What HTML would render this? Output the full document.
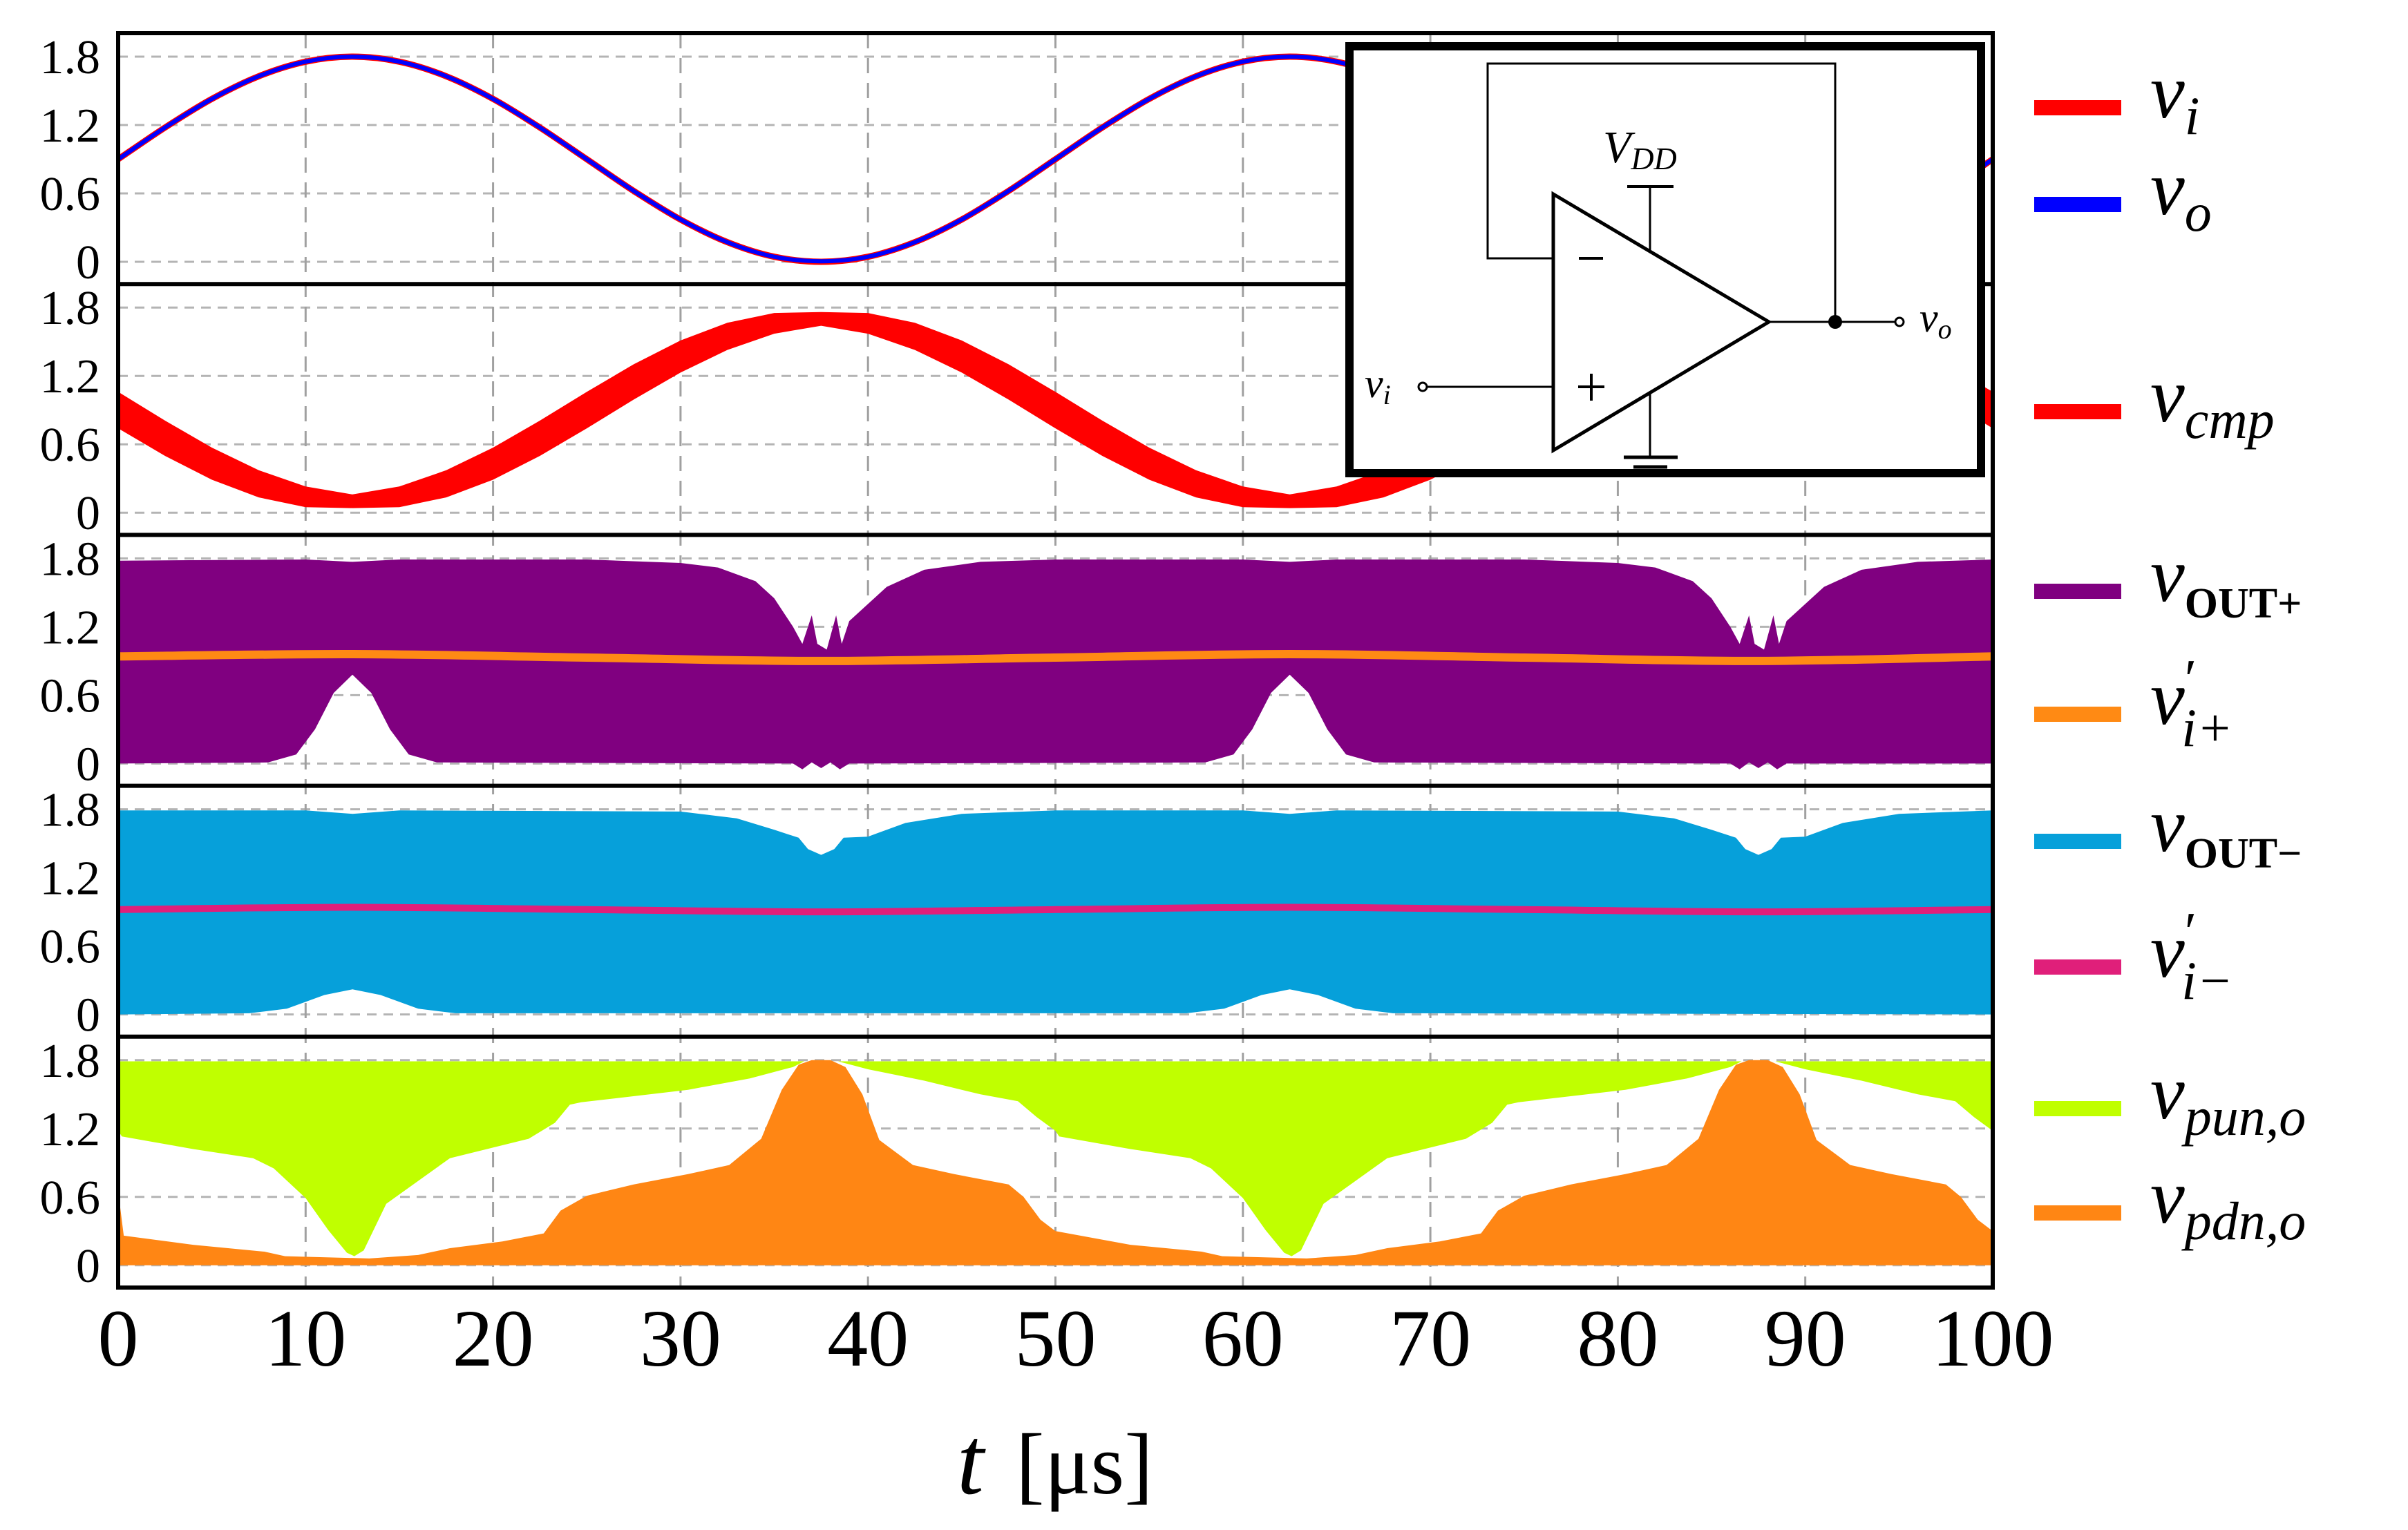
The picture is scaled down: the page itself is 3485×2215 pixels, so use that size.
<!DOCTYPE html>
<html><head><meta charset="utf-8"><style>
html,body{margin:0;padding:0;background:#fff;}
svg{display:block;}
</style></head><body>
<svg id="chart" width="3485" height="2215" viewBox="0 0 3485 2215" xmlns="http://www.w3.org/2000/svg">
<rect width="3485" height="2215" fill="#fff"/>
<g id="grid"></g><g id="series"></g><g id="frames"></g><g id="ticks"></g>
<g id="inset">
 <rect x="1953" y="67" width="914" height="618" fill="#fff" stroke="#000" stroke-width="12"/>
 <polyline points="2248,374 2153,374 2153,92 2656,92 2656,466" fill="none" stroke="#000" stroke-width="3"/>
 <polygon points="2248,281 2248,652 2560,466" fill="#fff" stroke="#000" stroke-width="5"/>
 <line x1="2285" y1="374" x2="2320" y2="374" stroke="#000" stroke-width="4"/>
 <line x1="2284" y1="560" x2="2322" y2="560" stroke="#000" stroke-width="4"/>
 <line x1="2303" y1="541" x2="2303" y2="580" stroke="#000" stroke-width="4"/>
 <line x1="2064" y1="560" x2="2248" y2="560" stroke="#000" stroke-width="3"/>
 <circle cx="2059" cy="560" r="6" fill="#fff" stroke="#000" stroke-width="3"/>
 <line x1="2560" y1="466" x2="2743" y2="466" stroke="#000" stroke-width="3"/>
 <circle cx="2656" cy="466" r="10" fill="#000"/>
 <circle cx="2749" cy="466" r="6" fill="#fff" stroke="#000" stroke-width="3"/>
 <line x1="2388" y1="270" x2="2388" y2="362" stroke="#000" stroke-width="3"/>
 <line x1="2355" y1="270" x2="2422" y2="270" stroke="#000" stroke-width="4"/>
 <line x1="2388" y1="570" x2="2388" y2="662" stroke="#000" stroke-width="3"/>
 <line x1="2350" y1="662" x2="2428" y2="662" stroke="#000" stroke-width="5"/>
 <line x1="2364" y1="676" x2="2413" y2="676" stroke="#000" stroke-width="5"/>
 <text x="2320" y="235" font-family="Liberation Serif, serif" font-style="italic" font-size="66">V<tspan font-size="46" dy="10">DD</tspan></text>
 <text x="1975" y="575" font-family="Liberation Serif, serif" font-style="italic" font-size="60">v<tspan font-size="40" dy="10">i</tspan></text>
 <text x="2778" y="480" font-family="Liberation Serif, serif" font-style="italic" font-size="60">v<tspan font-size="40" dy="10">o</tspan></text>
</g>
<g id="legend"></g>
<text x="1385" y="2162" font-family="Liberation Serif, serif" font-style="italic" font-size="140">t</text>
<text x="1470" y="2162" font-family="Liberation Serif, serif" font-size="125">[μs]</text>
</svg>
<script>
const xTicks = [0,10,20,30,40,50,60,70,80,90,100];
const yTicks = [0,0.6,1.2,1.8];
const yTickLabels = ["0","0.6","1.2","1.8"];
const tSine = [0,2.5,5,7.5,10,12.5,15,17.5,20,22.5,25,27.5,30,32.5,35,37.5,40,42.5,45,47.5,50,52.5,55,57.5,60,62.5,65,67.5,70,72.5,75,77.5,80,82.5,85,87.5,90,92.5,95,97.5,100];
const viVals = [0.9,1.178,1.429,1.628,1.756,1.8,1.756,1.628,1.429,1.178,0.9,0.622,0.371,0.172,0.044,0,0.044,0.172,0.371,0.622,0.9,1.178,1.429,1.628,1.756,1.8,1.756,1.628,1.429,1.178,0.9,0.622,0.371,0.172,0.044,0,0.044,0.172,0.371,0.622,0.9];
const voVals = [0.9,1.178,1.429,1.628,1.756,1.8,1.756,1.628,1.429,1.178,0.9,0.622,0.371,0.172,0.044,0.005,0.044,0.172,0.371,0.622,0.9,1.178,1.429,1.628,1.756,1.8,1.756,1.628,1.429,1.178,0.9,0.622,0.371,0.172,0.044,0.005,0.044,0.172,0.371,0.622,0.9];
const cmpUpper = [1.06,0.808,0.571,0.372,0.23,0.16,0.23,0.372,0.571,0.808,1.06,1.302,1.511,1.666,1.752,1.76,1.752,1.666,1.511,1.302,1.06,0.808,0.571,0.372,0.23,0.16,0.23,0.372,0.571,0.808,1.06,1.302,1.511,1.666,1.752,1.76,1.752,1.666,1.511,1.302,1.06];
const cmpLower = [0.74,0.498,0.289,0.134,0.048,0.04,0.048,0.134,0.289,0.498,0.74,0.992,1.229,1.428,1.57,1.64,1.57,1.428,1.229,0.992,0.74,0.498,0.289,0.134,0.048,0.04,0.048,0.134,0.289,0.498,0.74,0.992,1.229,1.428,1.57,1.64,1.57,1.428,1.229,0.992,0.74];
const outPTopT = [0,10,12.5,15,25,30,32,34,35,36,36.5,37,37.3,37.8,38.3,38.6,39,40,41,43,46,50,60,62.5,65,75,80,82,84,85,86,86.5,87,87.3,87.8,88.3,88.6,89,90,91,93,96,100];
const outPTopV = [1.78,1.79,1.77,1.79,1.79,1.76,1.72,1.6,1.45,1.2,1.05,1.3,1.05,1.0,1.3,1.05,1.25,1.4,1.55,1.7,1.77,1.79,1.79,1.77,1.79,1.79,1.76,1.72,1.6,1.45,1.2,1.05,1.3,1.05,1.0,1.3,1.05,1.25,1.4,1.55,1.7,1.77,1.79];
const outPBotT = [0,8,9.5,10.5,11.5,12.5,13.5,14.5,15.5,17,36,36.5,37,37.5,38,38.5,39,58,59.5,60.5,61.5,62.5,63.5,64.5,65.5,67,86,86.5,87,87.5,88,88.5,89,100];
const outPBotV = [0,0.01,0.08,0.3,0.62,0.78,0.62,0.3,0.08,0.01,0,-0.05,0.01,-0.04,0.01,-0.05,0,0.01,0.08,0.3,0.62,0.78,0.62,0.3,0.08,0.01,0,-0.05,0.01,-0.04,0.01,-0.05,0,0];
const viPlusT = [0,12.5,25,37.5,50,62.5,75,87.5,100];
const viPlusV = [0.94,0.96,0.93,0.9,0.93,0.96,0.93,0.9,0.94];
const outMTopT = [0,10,12.5,15,30,33,35,36.3,36.8,37.5,38.2,38.7,40,42,45,50,60,62.5,65,80,83,85,86.3,86.8,87.5,88.2,88.7,90,92,95,100];
const outMTopV = [1.79,1.79,1.76,1.79,1.78,1.72,1.62,1.55,1.45,1.4,1.45,1.55,1.56,1.68,1.76,1.79,1.79,1.76,1.79,1.78,1.72,1.62,1.55,1.45,1.4,1.45,1.55,1.56,1.68,1.76,1.79];
const outMBotT = [0,7,9,11,12.5,14,16,18,57,59,61,62.5,64,66,68,100];
const outMBotV = [0,0.01,0.05,0.17,0.22,0.17,0.05,0.01,0.01,0.05,0.17,0.22,0.17,0.05,0.01,0];
const viMinusT = [0,12.5,25,37.5,50,62.5,75,87.5,100];
const viMinusV = [0.92,0.94,0.92,0.9,0.92,0.94,0.92,0.9,0.92];
const punTopT = [0,100];
const punTopV = [1.79,1.79];
const punLowT = [0,0.2,4,7.2,8.3,10,11.2,12.2,12.6,13.1,14.3,16,17.7,21.9,23.3,24.1,24.7,30.4,33.7,36,36.6,38.4,40,43,46,48,49,50,50.2,54,57.2,58.3,60,61.2,62.2,62.6,63.1,64.3,66,67.7,71.9,73.3,74.1,74.7,80.4,83.7,86,86.6,88.4,90,93,96,98,99,100];
const punLowV = [1.18,1.13,1.02,0.94,0.85,0.59,0.31,0.11,0.08,0.13,0.54,0.74,0.94,1.11,1.25,1.41,1.43,1.54,1.64,1.74,1.79,1.79,1.72,1.62,1.5,1.44,1.3,1.18,1.13,1.02,0.94,0.85,0.59,0.31,0.11,0.08,0.13,0.54,0.74,0.94,1.11,1.25,1.41,1.43,1.54,1.64,1.74,1.79,1.79,1.72,1.62,1.5,1.44,1.3,1.18];
const pdnT = [0,0.3,4,7.8,8.9,13.4,16,17.7,20.5,22.7,23.6,25,27.5,30.4,32.6,34.3,35.4,36.3,37,38,38.8,39.7,40.6,42.4,44.6,47.5,48.3,49.2,50,54,57.8,58.9,63.4,66,67.7,70.5,72.7,73.6,75,77.5,80.4,82.6,84.3,85.4,86.3,87,88,88.8,89.7,90.6,92.4,94.6,97.5,98.3,99.2,100];
const pdnV = [0.65,0.26,0.18,0.12,0.08,0.06,0.09,0.15,0.21,0.28,0.48,0.61,0.71,0.8,0.88,1.11,1.54,1.76,1.8,1.8,1.74,1.5,1.1,0.88,0.8,0.71,0.6,0.4,0.3,0.18,0.12,0.08,0.06,0.09,0.15,0.21,0.28,0.48,0.61,0.71,0.8,0.88,1.11,1.54,1.76,1.8,1.8,1.74,1.5,1.1,0.88,0.8,0.71,0.6,0.4,0.3];

const NS = "http://www.w3.org/2000/svg";
const X0 = 171, X1 = 2884, TOP = 48, PH = 363.2, NP = 5;
function xs(t){ return X0 + (t/100)*(X1-X0); }
function ys(p, v){ return TOP + PH*p + 34 + (1.8 - v)*165; }
function mk(tag, attrs, parent){ const e=document.createElementNS(NS,tag); for(const k in attrs) e.setAttribute(k,attrs[k]); parent.appendChild(e); return e; }
const svg=document.getElementById('chart');
const defs=mk('defs',{},svg);
for(let p=0;p<NP;p++){
  const cp=mk('clipPath',{id:'clip'+p},defs);
  mk('rect',{x:X0,y:TOP+PH*p,width:X1-X0,height:PH},cp);
}
const gGrid=document.getElementById('grid'), gSer=document.getElementById('series'), gFr=document.getElementById('frames'), gTk=document.getElementById('ticks');
for(let p=0;p<NP;p++){
  for(const v of yTicks){
    const l=mk('line',{x1:X0,x2:X1,y1:ys(p,v),y2:ys(p,v),stroke:'#b4b4b4','stroke-width':3,'stroke-dasharray':'14 10'},gGrid);
    
    
  }
  yTicks.forEach((v,i)=>{
    const tx=mk('text',{x:145,y:ys(p,v)+24,'text-anchor':'end','font-family':'Liberation Serif, serif','font-size':70},gTk);
    tx.textContent=yTickLabels[i];
    
    
  });
}
for(const t of xTicks){
  const l=mk('line',{x1:xs(t),x2:xs(t),y1:TOP,y2:TOP+PH*NP,stroke:'#a0a0a0','stroke-width':3,'stroke-dasharray':'22 14'},gGrid);
  
  
  const tx=mk('text',{x:xs(t),y:1977,'text-anchor':'middle','font-family':'Liberation Serif, serif','font-size':118},gTk);
  tx.textContent=String(t);
  
  
}
function linePts(p,T,V){ return T.map((t,i)=>xs(t).toFixed(1)+','+ys(p,V[i]).toFixed(1)); }
function smoothPath(p,T,V){
  const P=T.map((t,i)=>[xs(t),ys(p,V[i])]);
  let d='M'+P[0][0]+','+P[0][1];
  for(let i=0;i<P.length-1;i++){
    const p0=P[Math.max(0,i-1)],p1=P[i],p2=P[i+1],p3=P[Math.min(P.length-1,i+2)];
    const c1=[p1[0]+(p2[0]-p0[0])/6,p1[1]+(p2[1]-p0[1])/6];
    const c2=[p2[0]-(p3[0]-p1[0])/6,p2[1]-(p3[1]-p1[1])/6];
    d+=' C'+c1[0].toFixed(1)+','+c1[1].toFixed(1)+' '+c2[0].toFixed(1)+','+c2[1].toFixed(1)+' '+p2[0].toFixed(1)+','+p2[1].toFixed(1);
  }
  return d;
}
function band(p,Tu,Vu,Tl,Vl,color,name){
  const pts=linePts(p,Tu,Vu).concat(linePts(p,Tl,Vl).reverse());
  const e=mk('polygon',{points:pts.join(' '),fill:color,'clip-path':'url(#clip'+p+')'},gSer);
  
  
}
function area(p,T,V,color,name){
  const pts=linePts(p,T,V); pts.push(xs(T[T.length-1])+','+ys(p,0)); pts.unshift(xs(T[0])+','+ys(p,0));
  const e=mk('polygon',{points:pts.join(' '),fill:color,'clip-path':'url(#clip'+p+')'},gSer);
  
  
}
function line(p,T,V,color,w,name,smooth){
  const e=mk('path',{d:smooth?smoothPath(p,T,V):'M'+linePts(p,T,V).join(' L'),fill:'none',stroke:color,'stroke-width':w,'clip-path':'url(#clip'+p+')'},gSer);
  
  
}
// panel 0
line(0,tSine,viVals,'#ff0000',9,'vi-line',true);
line(0,tSine,voVals,'#0000ff',6,'vo-line',true);
// panel 1
band(1,tSine,cmpUpper,tSine,cmpLower,'#ff0000','vcmp-band');
// panel 2
band(2,outPTopT,outPTopV,outPBotT,outPBotV,'#800080','vout-plus-band');
line(2,viPlusT,viPlusV,'#ff8a14',12,'vi-plus-prime-line',true);
// panel 3
band(3,outMTopT,outMTopV,outMBotT,outMBotV,'#06a0da','vout-minus-band');
line(3,viMinusT,viMinusV,'#e01f7a',10,'vi-minus-prime-line',true);
// panel 4
band(4,punTopT,punTopV,punLowT,punLowV,'#c0ff00','vpun-band');
area(4,pdnT,pdnV,'#ff8614','vpdn-area');
// frames
for(let p=0;p<=NP;p++){
  const l=mk('line',{x1:X0-3,x2:X1+3,y1:TOP+PH*p,y2:TOP+PH*p,stroke:'#000','stroke-width':6},gFr);
  
  
}
const lv=mk('line',{x1:X0,x2:X0,y1:TOP,y2:TOP+PH*NP,stroke:'#000','stroke-width':6},gFr);


const rv=mk('line',{x1:X1,x2:X1,y1:TOP,y2:TOP+PH*NP,stroke:'#000','stroke-width':6},gFr);


// legend
const legItems=[
 {y:156,c:'#ff0000',sub:'i',up:false,prime:false,n:'legend-vi'},
 {y:296,c:'#0000ff',sub:'o',up:false,prime:false,n:'legend-vo'},
 {y:596,c:'#ff0000',sub:'cmp',up:false,prime:false,n:'legend-vcmp'},
 {y:856,c:'#800080',sub:'OUT+',up:true,prime:false,n:'legend-vout-plus'},
 {y:1034,c:'#ff8a14',sub:'i+',up:false,prime:true,n:'legend-vi-plus-prime'},
 {y:1218,c:'#06a0da',sub:'OUT−',up:true,prime:false,n:'legend-vout-minus'},
 {y:1400,c:'#e01f7a',sub:'i−',up:false,prime:true,n:'legend-vi-minus-prime'},
 {y:1605,c:'#c0ff00',sub:'pun,o',up:false,prime:false,n:'legend-vpun'},
 {y:1756,c:'#ff8614',sub:'pdn,o',up:false,prime:false,n:'legend-vpdn'}
];
const gL=document.getElementById('legend');
for(const it of legItems){
  const g=mk('g',{},gL);
  
  
  mk('rect',{x:2944,y:it.y-11,width:126,height:22,fill:it.c},g);
  const t=mk('text',{x:3112,y:it.y+14,'font-family':'Liberation Serif, serif','font-style':'italic','font-size':112},g);
  t.appendChild(document.createTextNode('v'));
  if(it.prime){
    const pr=mk('tspan',{'font-size':80,dy:-38,'font-style':'normal'},t); pr.textContent='′';
    const s=mk('tspan',{'font-size':78,dx:-22,dy:70},t); s.textContent=it.sub;
  } else {
    const s=mk('tspan',{'font-size':it.up?62:78,dy:24,'font-style':it.up?'normal':'italic','font-weight':it.up?'bold':'normal'},t); s.textContent=it.sub;
  }
}
</script>
</body></html>
